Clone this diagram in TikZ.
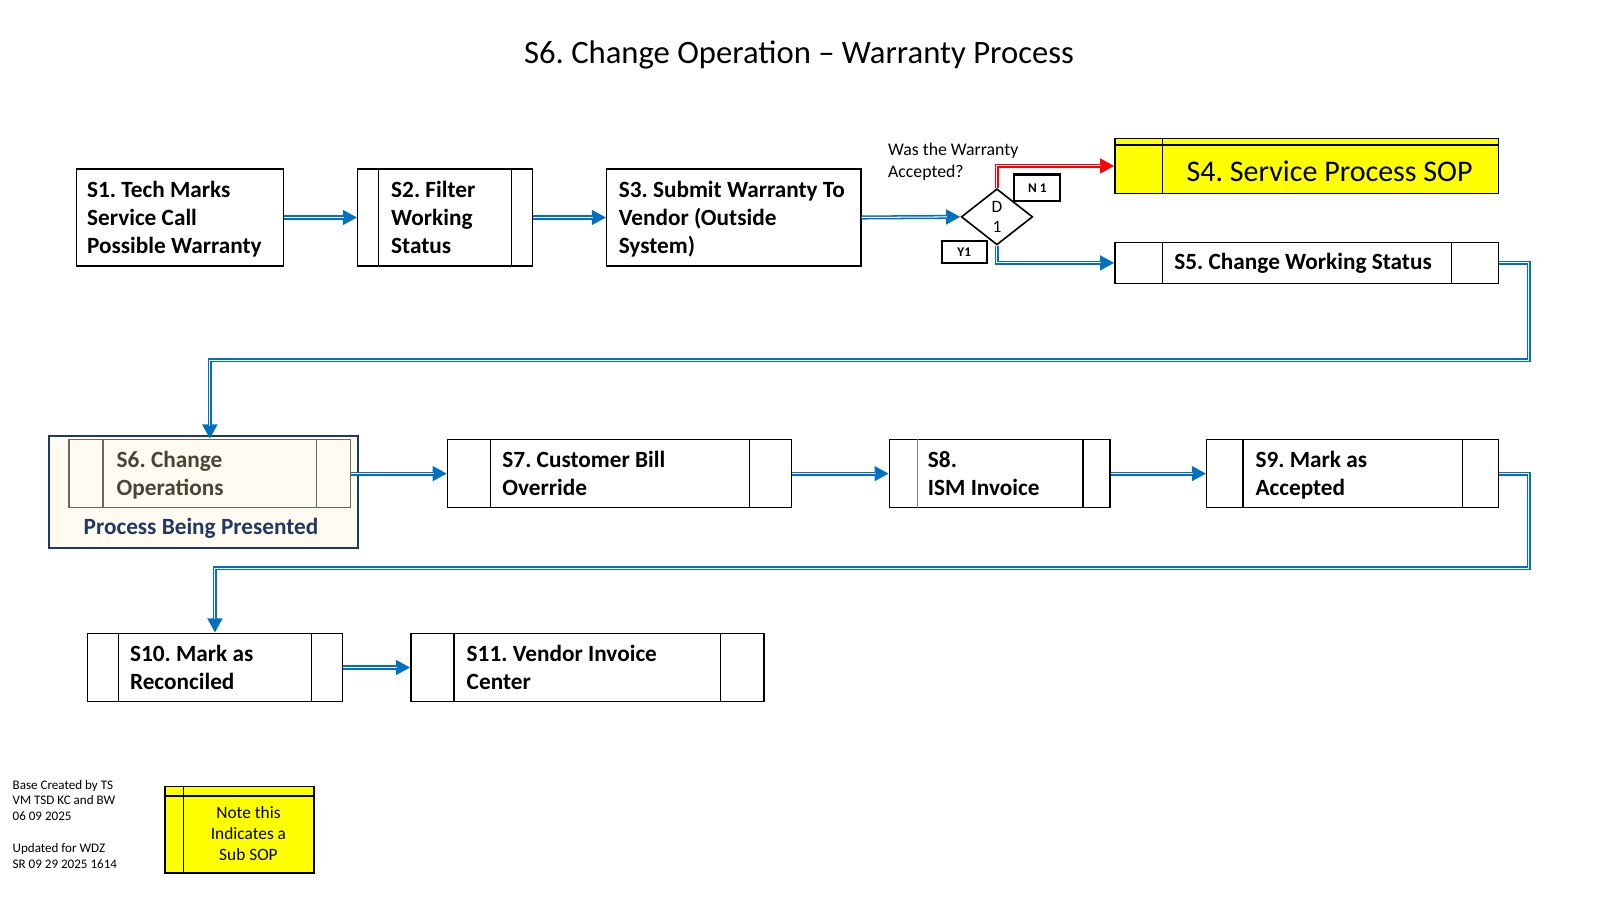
\documentclass[tikz,border=0pt]{standalone}
\usepackage{fontspec}
\setmainfont{Carlito}
\usetikzlibrary{arrows.meta,shapes.geometric,calc}
\frenchspacing
\definecolor{flowblue}{RGB}{0,112,192}
\definecolor{flowred}{RGB}{255,0,0}
\definecolor{sopyellow}{RGB}{255,255,0}
\definecolor{navy}{RGB}{31,56,100}
\definecolor{cream}{RGB}{255,251,240}
\definecolor{s6edge}{RGB}{110,103,90}
\definecolor{s6text}{RGB}{73,68,55}
\definecolor{midgray}{RGB}{128,128,128}
\newcommand\boxdividers[4][black]{%
  \draw[divider, draw=#1] ($(#2.north west)+(#3,0)$) -- ($(#2.south west)+(#3,0)$);
  \draw[divider, draw=#1] ($(#2.north east)+(-#4,0)$) -- ($(#2.south east)+(-#4,0)$);}
\begin{document}
\begin{tikzpicture}[x=0.5pt,y=-0.5pt,
  procbox/.style={draw=black, line width=0.65pt, fill=white, inner sep=0pt, anchor=north west},
  divider/.style={draw=black, line width=0.65pt},
  steptext/.style={font=\bfseries\fontsize{11.4}{13.75}\selectfont, align=left, anchor=west, inner sep=0pt,
    execute at begin node=\strut, execute at end node=\strut, yshift=-1.6pt},
  tagbox/.style={draw=black, line width=1pt, fill=white, inner sep=0pt, font=\bfseries\fontsize{6.5}{7}\selectfont},
  flow/.style={draw=flowblue, line width=2pt, line join=miter, -{Triangle[length=7pt,width=7pt]},
    postaction={draw=white, line width=0.5pt, -, shorten >=6.5pt}},
  noflow/.style={flow, draw=flowred},
]
\useasboundingbox (0,0) rectangle (1568,882);

% title
\node[font=\fontsize{16}{19}\selectfont, inner sep=0pt] (title) at (783,54) {S6. Change Operation -- Warranty Process};

% row 1
\node[procbox, minimum width=101.5pt, minimum height=47.5pt] (S1) at (74,165) {};
\node[steptext] (S1t) at (85,213.5) {S1. Tech Marks\\Service Call\\Possible Warranty};

\node[procbox, minimum width=85.5pt, minimum height=47.5pt] (S2) at (350,165) {};
\boxdividers{S2}{21}{21}
\node[steptext] (S2t) at (383,213.5) {S2. Filter\\Working\\Status};

\node[procbox, minimum width=124.5pt, minimum height=47.5pt] (S3) at (594,165) {};
\node[steptext] (S3t) at (606,213.5) {S3. Submit Warranty To\\Vendor (Outside\\System)};

\node[diamond, draw=black, line width=0.8pt, fill=white, minimum width=35pt, minimum height=27.5pt,
  inner sep=0pt, align=center, font=\fontsize{8.5}{10}\selectfont] (D1) at (977,212.5) {D\\1};
\node[font=\fontsize{8.7}{10.5}\selectfont, align=left, anchor=west, inner sep=0pt] (Q1) at (870,158.5) {Was the Warranty\\Accepted?};
\node[tagbox, minimum width=22.5pt, minimum height=13pt] (N1) at (1016.5,184) {N 1};
\node[tagbox, minimum width=22pt, minimum height=11pt] (Y1) at (945,247) {Y1};

\node[procbox, fill=sopyellow, minimum width=188pt, minimum height=27pt] (S4) at (1092,135) {};
\draw[divider] ($(S4.north west)+(0,7)$) -- ($(S4.north east)+(0,7)$);
\draw[divider] ($(S4.north west)+(47,0)$) -- ($(S4.south west)+(47,0)$);
\node[font=\fontsize{14.7}{17}\selectfont, inner sep=0pt] (S4t) at (1303,167.5) {S4. Service Process SOP};

\node[procbox, minimum width=188pt, minimum height=20pt] (S5) at (1092,237) {};
\boxdividers{S5}{47}{47}
\node[font=\bfseries\fontsize{11.4}{13.75}\selectfont, inner sep=0pt] (S5t) at (1277,258.5) {S5. Change Working Status};

% row 2
\node[procbox, draw=navy, line width=1pt, fill=cream, minimum width=151.5pt, minimum height=55pt] (S6o) at (47,426) {};
\node[procbox, draw=s6edge, fill=cream, minimum width=138pt, minimum height=33.5pt] (S6) at (67,430) {};
\boxdividers[s6edge]{S6}{34}{34}
\node[steptext, text=s6text] (S6t) at (114,465) {S6. Change\\Operations};
\node[font=\bfseries\fontsize{11.4}{13.75}\selectfont, text=navy, inner sep=0pt] (S6p) at (197,518) {Process Being Presented};

\node[procbox, minimum width=168.5pt, minimum height=33.5pt] (S7) at (438,430) {};
\boxdividers{S7}{43}{42}
\node[steptext] (S7t) at (492,465) {S7. Customer Bill\\Override};

\node[procbox, minimum width=108pt, minimum height=33.5pt] (S8) at (871,430) {};
\draw[divider, draw=midgray] ($(S8.north west)+(28,0)$) -- ($(S8.south west)+(28,0)$);
\draw[divider] ($(S8.north east)+(-27,0)$) -- ($(S8.south east)+(-27,0)$);
\node[steptext] (S8t) at (909,465) {S8.\\ISM Invoice};

\node[procbox, minimum width=143pt, minimum height=33.5pt] (S9) at (1182,430) {};
\boxdividers{S9}{36}{36}
\node[steptext] (S9t) at (1230,465) {S9. Mark as\\Accepted};

% row 3
\node[procbox, minimum width=125pt, minimum height=33.5pt] (S10) at (85,620) {};
\boxdividers{S10}{31}{31}
\node[steptext] (S10t) at (127,655) {S10. Mark as\\Reconciled};

\node[procbox, minimum width=173pt, minimum height=33.5pt] (S11) at (402,620) {};
\boxdividers{S11}{43}{43}
\node[steptext] (S11t) at (457,655) {S11. Vendor Invoice\\Center};

% footer
\node[font=\fontsize{6.4}{7.8}\selectfont, align=left, anchor=north west, inner sep=0pt] (foot) at (12,764)
  {Base Created by TS\\VM TSD KC and BW\\06 09 2025\\[7.8pt]Updated for WDZ\\SR 09 29 2025 1614};

\node[procbox, fill=sopyellow, minimum width=73pt, minimum height=42.5pt] (Note) at (161,770) {};
\draw[divider] ($(Note.north west)+(0,10)$) -- ($(Note.north east)+(0,10)$);
\draw[divider] ($(Note.north west)+(19,0)$) -- ($(Note.south west)+(19,0)$);
\node[font=\fontsize{8.5}{10.4}\selectfont, align=center, inner sep=0pt] (Notet) at (243.5,817) {Note this\\Indicates a\\Sub SOP};

% connectors
\coordinate (R1) at (1498,353);
\coordinate (R2) at (1498,557);
\draw[flow] (S1.east) -- (S2.west);
\draw[flow] (S2.east) -- (S3.west);
\draw[flow] (S3.east) -- (D1.west);
\draw[noflow] (D1.north) |- (S4.west);
\draw[flow] (D1.south) |- (S5.west);
\draw[flow] (S5.east) -| (R1) -| (S6.north);
\draw[flow] (S6.east) -- (S7.west);
\draw[flow] (S7.east) -- (S8.west);
\draw[flow] (S8.east) -- (S9.west);
\draw[flow] (S9.east) -| (R2) -| (S10.north);
\draw[flow] (S10.east) -- (S11.west);
\end{tikzpicture}
\end{document}
